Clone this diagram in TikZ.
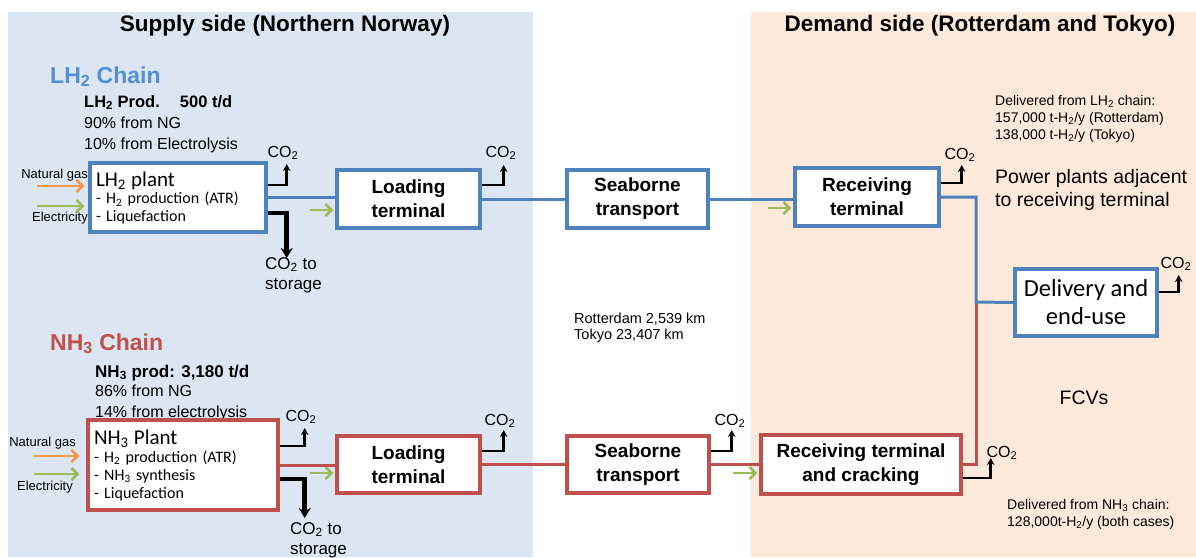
\documentclass[tikz,border=0pt]{standalone}
\usepackage{fontspec}
\setmainfont{Liberation Sans}
\newfontfamily\calib{Carlito}
\usetikzlibrary{arrows.meta,calc}
\definecolor{bluebg}{HTML}{DCE6F2}
\definecolor{peachbg}{HTML}{FDE9D9}
\definecolor{blueC}{HTML}{4F81BD}
\definecolor{redC}{HTML}{C0504D}
\definecolor{greenC}{HTML}{9BBB59}
\definecolor{orangeC}{HTML}{F79646}
\definecolor{titleblue}{HTML}{558ED5}
\newcommand{\subs}[1]{\textsubscript{#1}}
\begin{document}
\begin{tikzpicture}[x=1pt,y=-1pt,
  bbox/.style={draw=blueC,line width=3.4pt,fill=white,inner sep=0pt},
  rbox/.style={draw=redC,line width=3.4pt,fill=white,inner sep=0pt},
  boxtxt/.style={align=center,font=\bfseries\fontsize{19}{24}\selectfont},
  bline/.style={draw=blueC,line width=3pt},
  rline/.style={draw=redC,line width=3pt},
  feed/.style={line width=2.6pt,-{Straight Barb[length=6pt,width=12pt]}},
  co2/.style={line width=2.5pt,-{Stealth[length=7pt,width=7.5pt]}},
  store/.style={line width=4.8pt,-{Stealth[length=10pt,width=12pt]}},
  co2l/.style={font=\fontsize{16}{18}\selectfont,inner sep=0pt},
  t/.style={anchor=base west,inner sep=0pt},
  hdr/.style={font=\bfseries\fontsize{22.5}{26}\selectfont,inner sep=0pt},
  small/.style={font=\fontsize{13}{15}\selectfont,inner sep=0pt,anchor=east}
]
\useasboundingbox (0,0) rectangle (1196,557);
\fill[bluebg] (8,12) rectangle (533,557);
\fill[peachbg] (751,12) rectangle (1196,557);

\node[hdr] (hsup) at (285,26) {Supply side (Northern Norway)};
\node[hdr] (hdem) at (980,26) {Demand side (Rotterdam and Tokyo)};

% ---------- LH2 texts
\node[t,font=\bfseries\fontsize{23}{26}\selectfont,text=titleblue] (lhtitle) at (50,83) {LH\subs{2} Chain};
\node[t,font=\bfseries\fontsize{16.5}{19}\selectfont] (lhprod) at (84,107) {LH\subs{2} Prod.\hspace{14pt} 500 t/d};
\node[t,font=\fontsize{16}{19}\selectfont] (lhng) at (84,128) {90\% from NG};
\node[t,font=\fontsize{16}{19}\selectfont] (lhel) at (84,149) {10\% from Electrolysis};

% ---------- NH3 texts
\node[t,font=\bfseries\fontsize{23}{26}\selectfont,text=redC] (nhtitle) at (50,350) {NH\subs{3} Chain};
\node[t,font=\bfseries\fontsize{17}{19}\selectfont] (nhprod) at (95,377) {NH\subs{3} prod: 3,180 t/d};
\node[t,font=\fontsize{16}{19}\selectfont] (nhng) at (95,396) {86\% from NG};
\node[t,font=\fontsize{16}{19}\selectfont] (nhel) at (95,417) {14\% from electrolysis};

% ---------- boxes LH2
\node[bbox,minimum width=176,minimum height=69,text width=164,align=left,
  font=\calib\fontsize{16}{17.5}\selectfont] (lhplant) at (178,197.5)
  {{\fontsize{21}{21}\selectfont LH\subs{2} plant}\\- H\subs{2} production (ATR)\\- Liquefaction};
\node[bbox,boxtxt,minimum width=143,minimum height=58] (lhload) at (408.5,199) {Loading\\terminal};
\node[bbox,boxtxt,minimum width=141,minimum height=58] (lhsea) at (637.5,199) {Seaborne\\transport};
\node[bbox,boxtxt,minimum width=144,minimum height=58] (lhrecv) at (867,197) {Receiving\\terminal};
\node[bbox,minimum width=142,minimum height=67,align=center,
  font=\calib\fontsize{24.5}{28}\selectfont] (deliv) at (1086,302.5) {Delivery and\\end-use};

% ---------- boxes NH3
\node[rbox,minimum width=190,minimum height=90,text width=178,align=left,
  font=\calib\fontsize{16}{18}\selectfont] (nhplant) at (183,465)
  {{\fontsize{21}{21}\selectfont NH\subs{3} Plant}\\- H\subs{2} production (ATR)\\- NH\subs{3} synthesis\\- Liquefaction};
\node[rbox,boxtxt,minimum width=143,minimum height=57] (nhload) at (408.5,464.5) {Loading\\terminal};
\node[rbox,boxtxt,minimum width=142,minimum height=57] (nhsea) at (638,464.5) {Seaborne\\transport};
\node[rbox,boxtxt,minimum width=200,minimum height=59] (nhrecv) at (861,464.5) {Receiving terminal\\and cracking};

% ---------- feeds
\node[small] (lhngl) at (88,175) {Natural gas};
\node[small] (lhell) at (88,218) {Electricity};
\draw[feed,orangeC] ($(lhplant.west)+(-51,-11.5)$) -- ($(lhplant.west)+(-4,-11.5)$);
\draw[feed,greenC] ($(lhplant.west)+(-51,8.5)$) -- ($(lhplant.west)+(-4,8.5)$);
\node[small] (nhngl) at (76,443) {Natural gas};
\node[small] (nhell) at (73,487) {Electricity};
\draw[feed,orangeC] ($(nhplant.west)+(-52,-9)$) -- ($(nhplant.west)+(-7,-9)$);
\draw[feed,greenC] ($(nhplant.west)+(-52,9)$) -- ($(nhplant.west)+(-7,9)$);

\draw[feed,greenC] ($(lhload.west)+(-25,11)$) -- ($(lhload.west)+(-2,11)$);
\draw[feed,greenC] ($(lhrecv.west)+(-25,11)$) -- ($(lhrecv.west)+(-2,11)$);
\draw[feed,greenC] ($(nhload.west)+(-25,8.5)$) -- ($(nhload.west)+(-2,8.5)$);
\draw[feed,greenC] ($(nhrecv.west)+(-26,8.5)$) -- ($(nhrecv.west)+(-2,8.5)$);

% ---------- chain lines
\coordinate (junc) at (976,302);
\draw[rline] (nhplant.east) -- (nhplant.east -| nhload.west);
\draw[rline] (nhload.east) -- (nhload.east -| nhsea.west);
\draw[rline] (nhsea.east) -- (nhsea.east -| nhrecv.west);
\draw[rline] (nhrecv.east) -| (junc);
\draw[bline] (lhplant.east) -- (lhplant.east -| lhload.west);
\draw[bline] (lhload.east) -- (lhload.east -| lhsea.west);
\draw[bline] (lhsea.east) -- (lhsea.east -| lhrecv.west);
\draw[bline] (lhrecv.east) -| (junc) -- (deliv.west);

% ---------- CO2 arrows
\draw[co2] ($(lhplant.east)+(0,-12.5)$) -| ++(19,-21);
\draw[store] ($(lhplant.east)+(0,15.5)$) -| ++(19,45);
\draw[co2] ($(lhload.east)+(0,-14)$) -| ++(22,-20);
\draw[co2] ($(lhrecv.east)+(0,-14)$) -| ++(21,-18);
\draw[co2] ($(deliv.east)+(0,-10.5)$) -| ++(20,-17);
\draw[co2] ($(nhplant.east)+(0,-19)$) -| ++(25,-18);
\draw[store] ($(nhplant.east)+(0,14)$) -| ++(25,39);
\draw[co2] ($(nhload.east)+(0,-13.5)$) -| ++(22,-21);
\draw[co2] ($(nhsea.east)+(0,-13.5)$) -| ++(21,-21);
\draw[co2] ($(nhrecv.east)+(0,13.5)$) -| ++(28,-20);

\node[co2l] (c1) at (283,153) {CO\subs{2}};
\node[co2l] (c2) at (501,153) {CO\subs{2}};
\node[co2l] (c3) at (960,155) {CO\subs{2}};
\node[co2l] (c4) at (1176,264) {CO\subs{2}};
\node[co2l] (c5) at (301,417) {CO\subs{2}};
\node[co2l] (c6) at (500,421) {CO\subs{2}};
\node[co2l] (c7) at (730,421) {CO\subs{2}};
\node[co2l] (c8) at (1002,453) {CO\subs{2}};

\node[inner sep=0pt,anchor=north west,align=left,font=\fontsize{17}{20}\selectfont] (lhst) at (265,257) {CO\subs{2} to\\storage};
\node[inner sep=0pt,anchor=north west,align=left,font=\fontsize{17}{20}\selectfont] (nhst) at (290,522) {CO\subs{2} to\\storage};

% ---------- right-side and middle texts
\node[t,font=\fontsize{14}{17}\selectfont] (d1) at (995,105) {Delivered from LH\subs{2} chain:};
\node[t,font=\fontsize{14}{17}\selectfont] (d2) at (995,122) {157,000 t-H\subs{2}/y (Rotterdam)};
\node[t,font=\fontsize{14}{17}\selectfont] (d3) at (995,139) {138,000 t-H\subs{2}/y (Tokyo)};
\node[t,font=\fontsize{19.5}{23}\selectfont] (pp1) at (995,183) {Power plants adjacent};
\node[t,font=\fontsize{19.5}{23}\selectfont] (pp2) at (995,206) {to receiving terminal};
\node[inner sep=0pt,font=\fontsize{19.5}{23}\selectfont] (fcv) at (1084,398) {FCVs};
\node[t,font=\fontsize{14}{17}\selectfont] (n1) at (1007,509) {Delivered from NH\subs{3} chain:};
\node[t,font=\fontsize{14}{17}\selectfont] (n2) at (1007,526) {128,000t-H\subs{2}/y (both cases)};
\node[t,font=\fontsize{14.5}{17}\selectfont] (r1) at (574,323) {Rotterdam 2,539 km};
\node[t,font=\fontsize{14.5}{17}\selectfont] (r2) at (574,339) {Tokyo 23,407 km};
\end{tikzpicture}
\end{document}
